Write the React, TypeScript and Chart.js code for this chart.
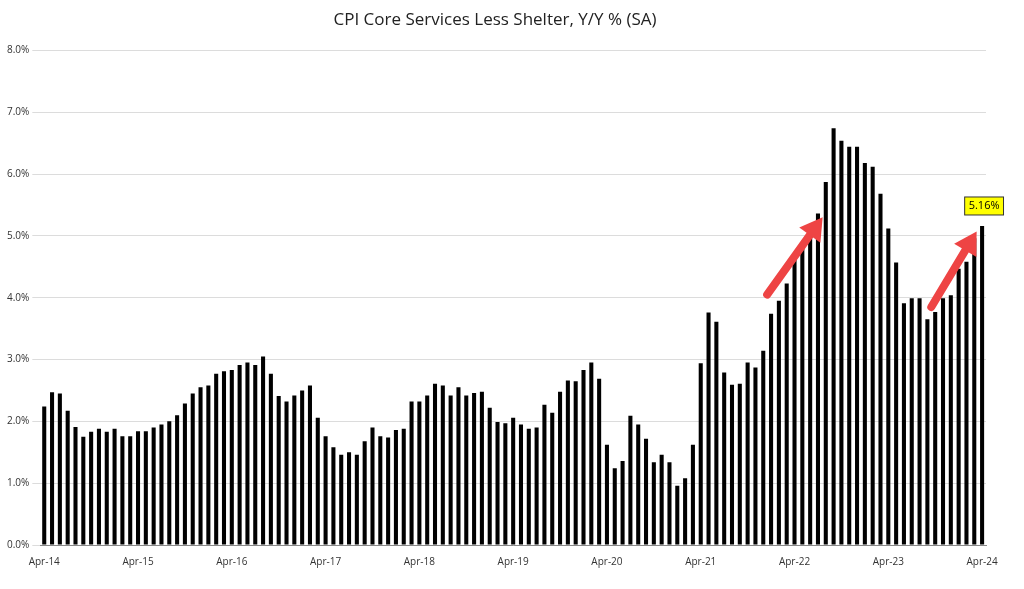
import React, { useEffect, useRef } from "react";
import { Chart, registerables } from "chart.js";
Chart.register(...registerables);

const VALUES: number[] = [
  2.24, 2.47, 2.45, 2.17, 1.91, 1.75, 1.83, 1.88, 1.83, 1.88, 1.76, 1.76, 1.84,
  1.84, 1.9, 1.95, 2.0, 2.1, 2.29, 2.45, 2.55, 2.58, 2.77, 2.81, 2.83,
  2.91, 2.95, 2.91, 3.05, 2.77, 2.41, 2.32, 2.42, 2.5, 2.58, 2.06, 1.76,
  1.58, 1.46, 1.5, 1.46, 1.68, 1.9, 1.76, 1.74, 1.86, 1.88, 2.32, 2.32,
  2.42, 2.61, 2.58, 2.42, 2.55, 2.42, 2.46, 2.48, 2.22, 1.99, 1.97, 2.06,
  1.95, 1.88, 1.9, 2.27, 2.14, 2.48, 2.66, 2.65, 2.83, 2.95, 2.69, 1.62,
  1.24, 1.36, 2.09, 1.95, 1.72, 1.34, 1.46, 1.34, 0.96, 1.08, 1.62, 2.94,
  3.76, 3.61, 2.79, 2.59, 2.61, 2.95, 2.87, 3.14, 3.74, 3.95, 4.23, 4.64,
  4.81, 5.03, 5.36, 5.87, 6.74, 6.54, 6.44, 6.44, 6.18, 6.12, 5.68, 5.12,
  4.57, 3.91, 3.99, 3.99, 3.65, 3.77, 3.99, 4.04, 4.47, 4.58, 4.96, 5.16,
];
const MONTHS = ["Jan", "Feb", "Mar", "Apr", "May", "Jun", "Jul", "Aug", "Sep", "Oct", "Nov", "Dec"];
const LABELS: string[] = VALUES.map((_, i) => {
  const m = (3 + i) % 12;
  const y = 14 + Math.floor((3 + i) / 12);
  return `${MONTHS[m]}-${y}`;
});
const LAST_LABEL = "5.16%";
// arrows: [tailIndex, tailValue, tipIndex, tipValue]
const ARROWS: number[][] = [
  [92.5, 4.05, 99.6, 5.3],
  [113.5, 3.85, 119.3, 5.07],
];

const overlay = {
  id: "overlay",
  afterDatasetsDraw(chart: any) {
    const { ctx, scales } = chart;
    const xs = scales.x, ys = scales.y;
    const px = (i: number) => {
      const a = xs.getPixelForValue(Math.floor(i));
      const b = xs.getPixelForValue(Math.floor(i) + 1);
      return a + (b - a) * (i - Math.floor(i));
    };
    ctx.save();
    for (const [ti, tv, hi, hv] of ARROWS) {
      const x1 = px(ti), y1 = ys.getPixelForValue(tv);
      const x2 = px(hi), y2 = ys.getPixelForValue(hv);
      const ang = Math.atan2(y2 - y1, x2 - x1);
      const head = 22;
      const bx = x2 - head * Math.cos(ang), by = y2 - head * Math.sin(ang);
      ctx.strokeStyle = "#ee4444";
      ctx.fillStyle = "#ee4444";
      ctx.lineWidth = 8;
      ctx.lineCap = "round";
      ctx.beginPath();
      ctx.moveTo(x1, y1);
      ctx.lineTo(bx, by);
      ctx.stroke();
      ctx.beginPath();
      ctx.moveTo(x2, y2);
      ctx.lineTo(bx + 13 * Math.cos(ang + Math.PI / 2), by + 13 * Math.sin(ang + Math.PI / 2));
      ctx.lineTo(bx - 13 * Math.cos(ang + Math.PI / 2), by - 13 * Math.sin(ang + Math.PI / 2));
      ctx.closePath();
      ctx.fill();
    }
    const li = VALUES.length - 1;
    const lx = xs.getPixelForValue(li) + 2;
    const ly = ys.getPixelForValue(VALUES[li]) - 20;
    ctx.font = "11px 'Open Sans', sans-serif";
    const w = ctx.measureText(LAST_LABEL).width + 8;
    ctx.fillStyle = "#ffff00";
    ctx.fillRect(lx - w / 2, ly - 9, w, 18);
    ctx.strokeStyle = "#333";
    ctx.lineWidth = 1;
    ctx.strokeRect(lx - w / 2, ly - 9, w, 18);
    ctx.fillStyle = "#000";
    ctx.textAlign = "center";
    ctx.textBaseline = "middle";
    ctx.fillText(LAST_LABEL, lx, ly);
    ctx.restore();
  },
};

export default function App() {
  const ref = useRef<HTMLCanvasElement>(null);
  useEffect(() => {
    document.body.style.margin = "0";
    const chart = new Chart(ref.current!, {
      type: "bar",
      data: {
        labels: LABELS,
        datasets: [{ data: VALUES, backgroundColor: "#000", categoryPercentage: 1, barPercentage: 0.52 }],
      },
      options: {
        animation: false,
        responsive: false,
        layout: { padding: { left: 4, right: 38, top: 8, bottom: 18 } },
        plugins: {
          legend: { display: false },
          tooltip: { enabled: false },
          title: {
            display: true,
            text: "CPI Core Services Less Shelter, Y/Y % (SA)",
            color: "#222",
            font: { family: "'Open Sans', sans-serif", size: 17, weight: "normal" },
            padding: { top: 2, bottom: 20 },
          },
        },
        scales: {
          x: {
            grid: { display: false },
            border: { color: "#888" },
            ticks: {
              autoSkip: false,
              maxRotation: 0,
              color: "#333",
              font: { family: "'Open Sans', sans-serif", size: 10 },
              callback: (_v: any, i: number) => (i % 12 === 0 ? LABELS[i] : ""),
            },
          },
          y: {
            min: 0,
            max: 8,
            grid: { color: "#dcdcdc" },
            border: { display: false },
            ticks: {
              stepSize: 1,
              color: "#333",
              font: { family: "'Open Sans', sans-serif", size: 10 },
              callback: (v: any) => Number(v).toFixed(1) + "%",
            },
          },
        },
      },
      plugins: [overlay],
    });
    return () => chart.destroy();
  }, []);
  return <canvas ref={ref} width={1024} height={589} style={{ display: "block" }} />;
}
